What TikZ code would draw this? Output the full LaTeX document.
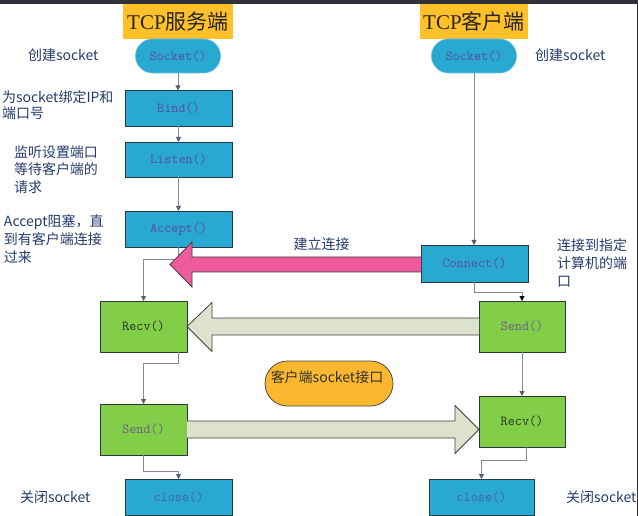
\documentclass[tikz,border=0pt]{standalone}
\usepackage{fontspec}
\setmainfont{Liberation Serif}
\newfontfamily\cjk{Noto Sans CJK SC}
\usetikzlibrary{arrows.meta,calc}
\definecolor{cyanfill}{RGB}{41,168,209}
\definecolor{boxline}{RGB}{42,56,66}
\definecolor{greenfill}{RGB}{130,206,72}
\definecolor{palegreen}{RGB}{221,226,204}
\definecolor{pinkfill}{RGB}{238,91,155}
\definecolor{titleorange}{RGB}{255,192,42}
\definecolor{stadorange}{RGB}{251,183,45}
\definecolor{labelblue}{RGB}{38,60,110}
\definecolor{connline}{RGB}{128,138,152}
\definecolor{conntip}{RGB}{85,95,112}
\definecolor{purpletext}{RGB}{88,78,165}
\definecolor{closetext}{RGB}{72,96,170}
\definecolor{sendtext}{RGB}{108,96,140}
\definecolor{recvtext}{RGB}{40,50,35}
\definecolor{darkstrip}{RGB}{48,50,58}
\begin{document}
\begin{tikzpicture}[x=1pt,y=-1pt,
  every node/.style={outer sep=0pt,inner sep=0pt},
  boxfont/.style={font=\ttfamily\fontsize{13.8}{16}\selectfont},
  cbox/.style={boxfont,draw=boxline,line width=0.8pt,fill=cyanfill,text=purpletext,minimum width=107pt,minimum height=36pt},
  gbox/.style={boxfont,draw=boxline,line width=0.8pt,fill=greenfill,minimum width=86pt,minimum height=51pt},
  sockbox/.style={boxfont,draw=cyanfill!70!white,line width=0.6pt,fill=cyanfill,text=purpletext,minimum width=85pt,minimum height=34pt,rounded corners=17pt},
  titlebox/.style={fill=titleorange,minimum height=34.5pt,font=\fontsize{21}{24}\selectfont,text=black!85},
  lab/.style={font=\cjk\fontsize{14}{18}\selectfont,text=labelblue,align=left},
  conn/.style={draw=connline,line width=0.9pt,-{Triangle[width=5pt,length=5pt,color=conntip]}},
  bigarrow/.style={draw=black!75,line width=0.8pt,line join=miter}
]
\useasboundingbox (0,0) rectangle (638,516);
\fill[white] (0,0) rectangle (638,516);
\fill[darkstrip] (0,0) rectangle (638,4.5);
\fill[darkstrip] (636.5,0) rectangle (638,516);

% titles
\node[titlebox,minimum width=110pt] (t1) at (178,21.75) {TCP{\cjk 服务端}};
\node[titlebox,minimum width=108pt] (t2) at (474,21.75) {TCP{\cjk 客户端}};

% server side
\node[sockbox] (sockL) at (178,56) {Socket()};
\node[cbox] (bind) at (178.5,108.5) {Bind()};
\node[cbox,minimum height=35pt] (listen) at (178.5,159.5) {Listen()};
\node[cbox] (accept) at (178.5,229) {Accept()};
\node[gbox,minimum width=87pt,text=recvtext] (recvL) at (143.5,326.5) {Recv()};
\node[gbox,minimum width=87pt,text=sendtext] (sendL) at (143.5,429.5) {Send()};
\node[cbox,text=closetext] (closeL) at (178.5,497) {close()};

% client side
\node[sockbox] (sockR) at (474,56) {Socket()};
\node[cbox,minimum height=37pt] (connect) at (474.5,263.5) {Connect()};
\node[gbox,text=sendtext] (sendR) at (522,326.5) {Send()};
\node[gbox,text=recvtext] (recvR) at (522,421.5) {Recv()};
\node[cbox,minimum width=105pt,text=closetext] (closeR) at (481.5,497) {close()};

% middle stadium
\node[draw=black!70,line width=0.8pt,fill=stadorange,minimum width=128pt,minimum height=45pt,rounded corners=22.5pt] (stad) at (329,383.5) {};
\node[font=\cjk\fontsize{14}{18}\selectfont,text=black!80] (stadtext) at (327,377) {客户端socket接口};

% labels
\node[lab,anchor=west] (l1) at (28,55) {创建socket};
\node[lab,anchor=west] (r1) at (535,55) {创建socket};
\node[lab,anchor=west,font=\cjk\fontsize{14}{16.5}\selectfont] (l2) at (2,105) {为socket绑定IP和\\端口号};
\node[lab,anchor=west,font=\cjk\fontsize{14}{17.5}\selectfont] (l3) at (14,169.5) {监听设置端口\\等待客户端的\\请求};
\node[lab,anchor=west] (l4) at (4,239) {Accept阻塞，直\\到有客户端连接\\过来};
\node[lab,anchor=west] (r2) at (557,263) {连接到指定\\计算机的端\\口};
\node[lab] (mid) at (321.5,244) {建立连接};
\node[lab,anchor=west] (l5) at (20,497) {关闭socket};
\node[lab,anchor=west] (r3) at (566,497) {关闭socket};

% connectors
\draw[conn] (sockL.south) -- (sockL.south |- bind.north);
\draw[conn] (bind.south) -- (listen.north);
\draw[conn] (listen.south) -- (accept.north);
\draw[conn] (accept.south) -- ++(0,12) -| (recvL.north);
\draw[conn] ([xshift=-9pt]recvL.south east) -- ++(0,11) -| (sendL.north);
\draw[conn] (sendL.south) -- ++(0,16) -| (closeL.north);
\draw[conn] (sockR.south) -- (sockR.south |- connect.north);
\draw[conn,-{Triangle[width=5pt,length=5pt,color=black]}] (connect.south) -- ++(0,10) -| (sendR.north);
\draw[conn] (sendR.south) -- (recvR.north);
\draw[conn] ([xshift=4pt]recvR.south) -- ++(0,13) -| (closeR.north);

% big arrows
\coordinate (pinktip) at (170,264.5);
\draw[bigarrow,fill=pinkfill]
  ($(connect.west)+(0,-6.5)$) -- ($(pinktip)+(22,-7.5)$) -- ($(pinktip)+(22,-22.5)$)
  -- (pinktip) -- ($(pinktip)+(22,22.5)$) -- ($(pinktip)+(22,7.5)$) -- ($(connect.west)+(0,8.5)$);
\draw[bigarrow,fill=palegreen]
  ($(sendR.west)+(0,-8.5)$) -- ($(recvL.east)+(25,-8.5)$) -- ($(recvL.east)+(25,-24)$)
  -- (recvL.east) -- ($(recvL.east)+(25,25)$) -- ($(recvL.east)+(25,8.5)$) -- ($(sendR.west)+(0,8.5)$);
\coordinate (greentip) at (sendL.east -| recvR.west);
\draw[bigarrow,fill=palegreen]
  ($(sendL.east)+(0,-8.5)$) -- ($(greentip)+(-24,-8.5)$) -- ($(greentip)+(-24,-24)$)
  -- (greentip) -- ($(greentip)+(-24,24)$) -- ($(greentip)+(-24,8.5)$) -- ($(sendL.east)+(0,8.5)$);
\end{tikzpicture}
\end{document}
